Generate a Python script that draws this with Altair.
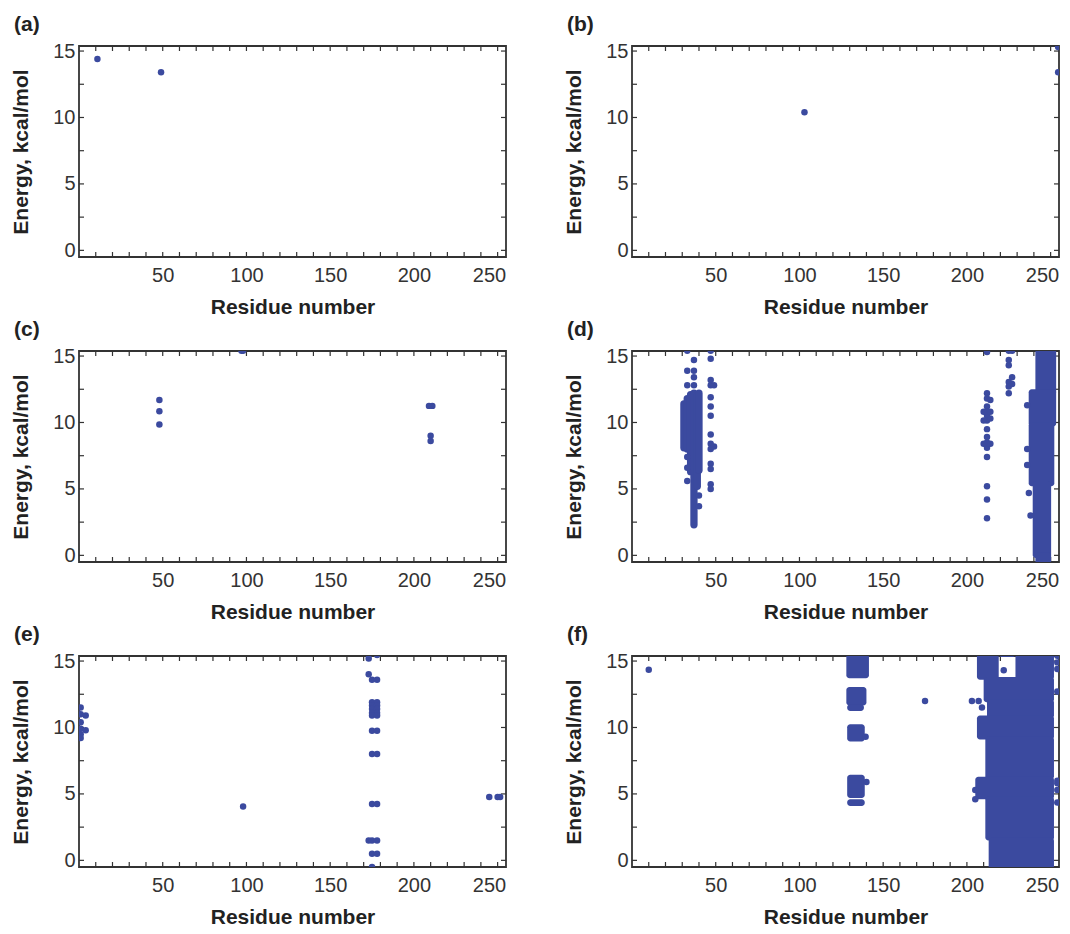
import altair as alt
import pandas as pd

# ---------------- axis / frame data ----------------
PANEL_LABELS = ["(a)", "(b)", "(c)", "(d)", "(e)", "(f)"]
X_TITLE = "Residue number"
Y_TITLE = "Energy, kcal/mol"
X_DOMAIN = [0, 255]
Y_DOMAIN = [-0.5, 15.38]
X_TICKS = [10, 20, 30, 40, 50, 60, 70, 80, 90, 100, 110, 120, 130, 140, 150,
           160, 170, 180, 190, 200, 210, 220, 230, 240, 250]
X_LABELS = [50, 100, 150, 200, 250]
Y_TICKS = [0, 2.5, 5, 7.5, 10, 12.5, 15]
Y_LABELS = [0, 5, 10, 15]

# ---------------- panel (a) ----------------
a_res = [11, 49]
a_en = [14.4, 13.4]

# ---------------- panel (b) ----------------
b_res = [103, 254.5, 254.5]
b_en = [10.4, 15.3, 13.4]

# ---------------- panel (c) ----------------
c_res = [48, 48, 48, 97, 98, 209, 211, 210, 210]
c_en = [11.7, 10.85, 9.85, 15.4, 15.4, 11.25, 11.25, 9.0, 8.6]

# ---------------- panel (d) ----------------
d_res = [33, 33, 33, 33, 33, 33,
         37, 37, 37, 37, 40, 40,
         47, 47, 47, 47, 47, 47, 47, 47, 47, 47, 47, 47, 47, 47,
         49, 49,
         212, 212, 212, 212, 212, 212, 212, 212, 212, 212, 212, 212, 212, 212, 212,
         210, 210, 210, 214, 214, 214, 214,
         225, 225, 225, 225, 225, 225, 227, 227, 227,
         236, 236, 236, 237, 238]
d_en = [15.4, 13.9, 12.8, 7.4, 6.6, 5.6,
        14.7, 13.9, 13.4, 12.8, 4.5, 3.7,
        15.4, 14.8, 13.2, 12.8, 11.9, 11.2, 10.5, 9.1, 8.4, 8.0, 6.9, 6.5, 5.35, 5.0,
        12.8, 8.2,
        15.3, 12.2, 11.8, 11.2, 10.8, 10.5, 10.15, 9.5, 8.9, 8.5, 8.1, 7.4, 5.2, 4.2, 2.8,
        10.8, 10.15, 8.4, 11.7, 10.8, 10.3, 8.4,
        15.4, 14.7, 14.3, 13.05, 12.7, 12.2, 15.4, 13.4, 12.9,
        11.3, 8.0, 6.8, 4.7, 3.0]
# densely filled residue columns (energy from .. to)
d_col_res = [31, 33, 35, 37, 39, 40]
d_col_lo = [8.1, 8.0, 6.3, 2.3, 5.2, 6.4]
d_col_hi = [11.4, 11.8, 12.1, 12.2, 12.0, 12.2]
# saturated areas (edges in residue / energy units)
d_blk_r0 = [240.9, 236.9, 236.9, 239.3, 240.9]
d_blk_r1 = [253.3, 253.3, 252.2, 250.3, 250.3]
d_blk_e0 = [12.1, 9.7, 5.2, -0.2, -0.8]
d_blk_e1 = [15.8, 12.5, 10.0, 5.6, 0.2]

# ---------------- panel (e) ----------------
e_res = [1, 1, 4, 1, 1, 4, 1, 1,
         98,
         178, 173, 173, 175, 178,
         175, 178, 175, 178, 175, 178, 175, 178, 175, 178,
         175, 178, 175, 178, 175, 178,
         173, 175, 178, 175, 178, 175,
         245, 250, 251.5]
e_en = [11.5, 11.0, 10.9, 10.4, 9.9, 9.8, 9.5, 9.2,
        4.05,
        15.45, 15.2, 14.0, 13.6, 13.6,
        11.9, 11.9, 11.65, 11.65, 11.4, 11.4, 11.1, 11.1, 10.9, 10.9,
        9.75, 9.75, 8.0, 8.0, 4.25, 4.25,
        1.5, 1.5, 1.5, 0.5, 0.5, -0.5,
        4.76, 4.76, 4.76]

# ---------------- panel (f) ----------------
f_res = [10, 175,
         139.5, 140, 203, 207, 209, 205, 205, 222,
         254, 254, 254, 254, 254, 254, 254, 254]
f_en = [14.35, 12.0,
        9.3, 5.9, 12.0, 12.0, 11.5, 5.3, 4.6, 14.3,
        15.4, 14.9, 14.4, 12.7, 6.0, 5.8, 5.3, 4.35]
f_blk_r0 = [128, 128, 128.5, 128.5, 128.5, 128.5,
            206, 229, 219, 210, 212, 206, 211, 205, 211, 213]
f_blk_r1 = [141.5, 140, 138.5, 139, 139, 139,
            219, 252, 229, 252, 252, 252, 252, 252, 252, 252]
f_blk_e0 = [13.7, 11.65, 11.25, 8.95, 4.7, 4.1,
            13.6, 13.6, 15.3, 11.9, 10.7, 9.1, 6.1, 4.6, 1.5, -0.8]
f_blk_e1 = [15.8, 13.05, 11.75, 10.25, 6.45, 4.6,
            15.8, 15.8, 15.8, 13.8, 12.1, 10.9, 9.3, 6.3, 4.8, 1.7]

# ---------------- styling ----------------
W, H = 427, 211
FONT = "Liberation Sans"
DOT = "#3b4a9f"
FRAME = "#333333"
TICK_LEN = 5
DOT_SIZE = 42
DOT_D = 7.3

xscale = alt.Scale(domain=X_DOMAIN, nice=False, zero=False)
yscale = alt.Scale(domain=Y_DOMAIN, nice=False, zero=False)

xaxis = alt.Axis(values=X_LABELS, title=X_TITLE, ticks=False, tickSize=0, domain=False,
                 grid=False, labelFontSize=20, labelColor="#333333", labelPadding=8,
                 labelFont=FONT, titleFont=FONT, titleFontSize=21, titleFontWeight="bold",
                 titleColor="#222222", titlePadding=11, labelFlush=15,
                 labelFlushOffset=8, format="d")
yaxis = alt.Axis(values=Y_LABELS, title=Y_TITLE, ticks=False, tickSize=0, domain=False,
                 grid=False, labelFontSize=20, labelColor="#333333", labelPadding=4,
                 labelFont=FONT, titleFont=FONT, titleFontSize=21, titleFontWeight="bold",
                 titleColor="#222222", titlePadding=21, labelFlush=False, format="d")

xt = pd.DataFrame({"r": X_TICKS})
yt = pd.DataFrame({"e": Y_TICKS})


def panel(label, res, en, blk=None, cols=None):
    layers = [
        alt.Chart(xt).mark_rule(color=FRAME, strokeWidth=1.2).encode(
            x=alt.X("r:Q", scale=xscale, axis=xaxis),
            y=alt.value(H), y2=alt.value(H - TICK_LEN)),
        alt.Chart(xt).mark_rule(color=FRAME, strokeWidth=1.2).encode(
            x=alt.X("r:Q", scale=xscale, axis=xaxis),
            y=alt.value(0), y2=alt.value(TICK_LEN)),
        alt.Chart(yt).mark_rule(color=FRAME, strokeWidth=1.2).encode(
            y=alt.Y("e:Q", scale=yscale, axis=yaxis),
            x=alt.value(0), x2=alt.value(TICK_LEN)),
        alt.Chart(yt).mark_rule(color=FRAME, strokeWidth=1.2).encode(
            y=alt.Y("e:Q", scale=yscale, axis=yaxis),
            x=alt.value(W), x2=alt.value(W - TICK_LEN)),
    ]
    if blk is not None:
        bdf = pd.DataFrame({"r": blk[0], "r1": blk[1], "e": blk[2], "e1": blk[3]})
        layers.append(
            alt.Chart(bdf).mark_rect(color=DOT, cornerRadius=3, clip=True).encode(
                x=alt.X("r:Q", scale=xscale, axis=xaxis), x2="r1:Q",
                y=alt.Y("e:Q", scale=yscale, axis=yaxis), y2="e1:Q"))
    if cols is not None:
        cdf = pd.DataFrame({"r": cols[0], "e": cols[1], "e1": cols[2]})
        layers.append(
            alt.Chart(cdf).mark_rule(color=DOT, strokeWidth=DOT_D, strokeCap="round",
                                     clip=True).encode(
                x=alt.X("r:Q", scale=xscale, axis=xaxis),
                y=alt.Y("e:Q", scale=yscale, axis=yaxis), y2="e1:Q"))
    pdf = pd.DataFrame({"r": res, "e": en})
    layers.append(
        alt.Chart(pdf).mark_circle(color=DOT, size=DOT_SIZE, opacity=1, clip=True).encode(
            x=alt.X("r:Q", scale=xscale, axis=xaxis),
            y=alt.Y("e:Q", scale=yscale, axis=yaxis)))
    return alt.layer(*layers).properties(
        width=W, height=H,
        title=alt.TitleParams(label, anchor="start", frame="group", dx=-65, offset=6,
                              fontSize=21, fontWeight="bold", font=FONT, color="#222222"))


panels = [
    panel(PANEL_LABELS[0], a_res, a_en),
    panel(PANEL_LABELS[1], b_res, b_en),
    panel(PANEL_LABELS[2], c_res, c_en),
    panel(PANEL_LABELS[3], d_res, d_en, (d_blk_r0, d_blk_r1, d_blk_e0, d_blk_e1),
          (d_col_res, d_col_lo, d_col_hi)),
    panel(PANEL_LABELS[4], e_res, e_en),
    panel(PANEL_LABELS[5], f_res, f_en, (f_blk_r0, f_blk_r1, f_blk_e0, f_blk_e1)),
]

chart = alt.concat(*panels, columns=2, spacing={"row": 94, "column": 126},
                   bounds="flush").configure(
    background="white",
    padding={"top": 5, "left": 1, "right": 0, "bottom": 0}).configure_view(
    stroke=FRAME, strokeWidth=1.8)

chart.save("out.html", embed_options={"renderer": "svg", "actions": False})
